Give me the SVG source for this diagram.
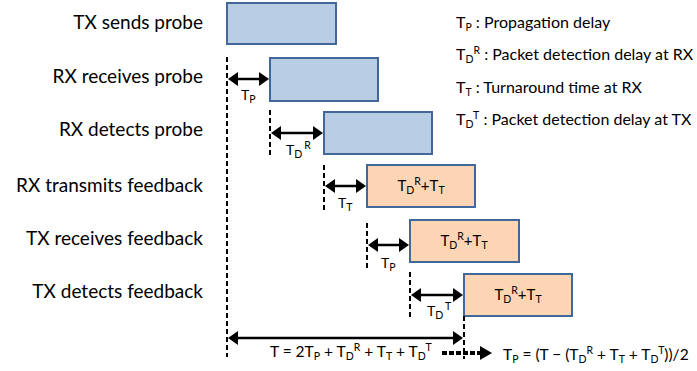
<svg xmlns="http://www.w3.org/2000/svg" width="697" height="371" viewBox="0 0 697 371">
<style>
text{font-family:Lato,"Carlito","Liberation Sans",sans-serif;fill:#000}
.lbl{font-size:19px;text-anchor:end}
.leg{font-size:16px}
.bx{font-size:15px}
.sm{font-size:14px}
.fm{font-size:15.5px}
.blue{fill:#b9cde5;stroke:#41679b;stroke-width:2}
.orange{fill:#fcd5b5;stroke:#41679b;stroke-width:2}
.dash{stroke:#000;stroke-width:2;stroke-dasharray:5 3;fill:none}
.arr{stroke:#000;stroke-width:2.5;fill:none;marker-start:url(#ah);marker-end:url(#ah)}
.sub{font-size:10.5px}
</style>
<defs>
<marker id="ah" markerUnits="userSpaceOnUse" markerWidth="10" markerHeight="14" refX="2" refY="7" orient="auto-start-reverse" viewBox="0 0 10 14">
<path d="M0,0 L10,7 L0,14 z" fill="#000"/>
</marker>
</defs>
<g id="labels">
<text class="lbl" x="203" y="29">TX sends probe</text>
<text class="lbl" x="203" y="83">RX receives probe</text>
<text class="lbl" x="203" y="136">RX detects probe</text>
<text class="lbl" x="203" y="192">RX transmits feedback</text>
<text class="lbl" x="203" y="245">TX receives feedback</text>
<text class="lbl" x="203" y="298">TX detects feedback</text>
</g>
<g id="legend" class="leg">
<text x="456" y="28">T<tspan class="sub" dy="3">P</tspan><tspan dy="-3"> : Propagation delay</tspan></text>
<text x="456" y="60">T<tspan class="sub" dy="3">D</tspan><tspan class="sub" dy="-9">R</tspan><tspan dy="6"> : Packet detection delay at RX</tspan></text>
<text x="456" y="93">T<tspan class="sub" dy="3">T</tspan><tspan dy="-3"> : Turnaround time at RX</tspan></text>
<text x="456" y="125">T<tspan class="sub" dy="3">D</tspan><tspan class="sub" dy="-9">T</tspan><tspan dy="6"> : Packet detection delay at TX</tspan></text>
</g>
<g id="box1"><rect class="blue" x="227" y="3" width="109" height="41"/></g>
<g id="box2"><rect class="blue" x="270" y="58" width="108" height="43"/></g>
<g id="box3"><rect class="blue" x="324" y="112" width="108" height="42"/></g>
<g id="box4"><rect class="orange" x="367" y="165" width="108" height="42"/>
<text class="bx" x="421" y="191" text-anchor="middle">T<tspan class="sub" dy="3">D</tspan><tspan class="sub" dy="-9">R</tspan><tspan dy="6">+T</tspan><tspan class="sub" dy="3">T</tspan></text></g>
<g id="box5"><rect class="orange" x="410" y="220" width="109" height="42"/>
<text class="bx" x="464" y="246" text-anchor="middle">T<tspan class="sub" dy="3">D</tspan><tspan class="sub" dy="-9">R</tspan><tspan dy="6">+T</tspan><tspan class="sub" dy="3">T</tspan></text></g>
<g id="box6"><rect class="orange" x="464" y="274" width="108" height="42"/>
<text class="bx" x="518" y="300" text-anchor="middle">T<tspan class="sub" dy="3">D</tspan><tspan class="sub" dy="-9">R</tspan><tspan dy="6">+T</tspan><tspan class="sub" dy="3">T</tspan></text></g>
<g id="connectors">
<line class="dash" x1="227" y1="57" x2="227" y2="357"/>
<line class="dash" x1="270" y1="110" x2="270" y2="156"/>
<line class="dash" x1="324" y1="165" x2="324" y2="212"/>
<line class="dash" x1="367" y1="223" x2="367" y2="268"/>
<line class="dash" x1="410" y1="272" x2="410" y2="317"/>
<line class="dash" x1="464" y1="316" x2="464" y2="359"/>
<line class="arr" x1="236" y1="79" x2="261" y2="79"/>
<line class="arr" x1="279" y1="133" x2="315" y2="133"/>
<line class="arr" x1="333" y1="186" x2="358" y2="186"/>
<line class="arr" x1="376" y1="245" x2="401" y2="245"/>
<line class="arr" x1="419" y1="295" x2="455" y2="295"/>
<line class="arr" x1="236" y1="338" x2="455" y2="338"/>
<line x1="442" y1="353" x2="481" y2="353" stroke="#000" stroke-width="4" stroke-dasharray="5 2"/>
<path d="M480,346 L492,353 L480,360 z" fill="#000"/>
</g>
<g id="arrow-labels" class="sm">
<text x="241" y="100">T<tspan class="sub" dy="3">P</tspan></text>
<text x="286" y="155">T<tspan class="sub" dy="3">D</tspan><tspan class="sub" dx="2" dy="-9">R</tspan></text>
<text x="338" y="208">T<tspan class="sub" dy="3">T</tspan></text>
<text x="381" y="268">T<tspan class="sub" dy="3">P</tspan></text>
<text x="427" y="316">T<tspan class="sub" dy="3">D</tspan><tspan class="sub" dx="2" dy="-9">T</tspan></text>
</g>
<g id="formulas" class="fm">
<text x="270" y="357">T = 2T<tspan class="sub" dy="3">P</tspan><tspan dy="-3"> + T</tspan><tspan class="sub" dy="3">D</tspan><tspan class="sub" dy="-9">R</tspan><tspan dy="6"> +  T</tspan><tspan class="sub" dy="3">T</tspan><tspan dy="-3"> + T</tspan><tspan class="sub" dy="3">D</tspan><tspan class="sub" dy="-9">T</tspan></text>
<text x="503" y="360">T<tspan class="sub" dy="3">P</tspan><tspan dy="-3"> = (T − (T</tspan><tspan class="sub" dy="3">D</tspan><tspan class="sub" dy="-9">R</tspan><tspan dy="6"> +  T</tspan><tspan class="sub" dy="3">T</tspan><tspan dy="-3"> + T</tspan><tspan class="sub" dy="3">D</tspan><tspan class="sub" dy="-9">T</tspan><tspan dy="6">))/2</tspan></text>
</g>
</svg>
